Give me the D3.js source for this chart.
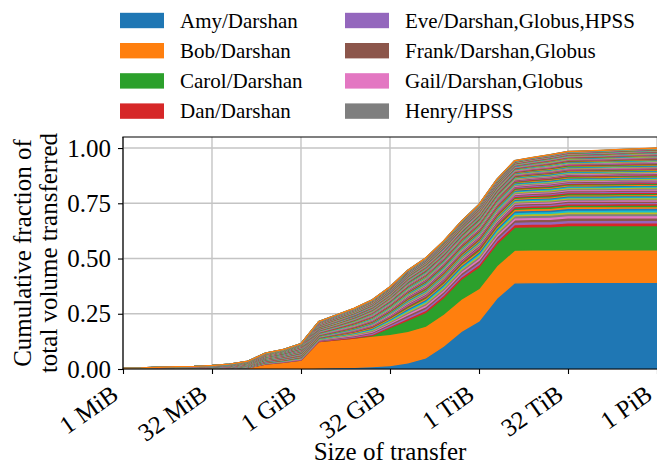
<!DOCTYPE html>
<html>
<head>
<meta charset="utf-8">
<script src="https://cdn.jsdelivr.net/npm/d3@7"></script>
<style>
  body { margin: 0; background: #fff; }
  svg { display: block; }
  text { font-family: "Liberation Serif", "Times New Roman", serif; fill: #000; }
</style>
</head>
<body>
<svg id="chart" width="657" height="464"></svg>
<script>
// Transfer-size bins: log2 of the bin's upper bound in bytes (1 MiB .. 1 PiB)
const binExp = [20, 21, 22, 23, 24, 25, 26, 27, 28, 29, 30, 31, 32, 33, 34, 35,
                36, 37, 38, 39, 40, 41, 42, 43, 44, 45, 46, 47, 48, 49, 50];

// X axis ticks
const xTickExp = [20, 25, 30, 35, 40, 45, 50];
const xTickLabels = ["1 MiB", "32 MiB", "1 GiB", "32 GiB", "1 TiB", "32 TiB", "1 PiB"];
const yTicks = [0, 0.25, 0.5, 0.75, 1.0];

// Cumulative fraction of total volume, per bin, for the three largest users
const amy = [0, 0, 0, 0, 0, 0, 0, 0, 0, 0, .002, .004, .006, .008, .011, .016,
             .028, .05, .103, .17, .217, .32, .39, .391, .391, .392, .392, .392, .392, .392, .392];
const bob = [0, 0, 0, 0, 0, 0, .001, .005, .022, .03, .038, .12, .126, .132, .138, .141,
             .143, .144, .145, .146, .147, .147, .148, .148, .148, .148, .148, .148, .148, .148, .148];
const carol = [0, 0, 0, 0, 0, 0, 0, 0, 0, 0, 0, 0, 0, 0, .003, .03,
               .05, .062, .075, .09, .098, .1, .104, .105, .105, .109, .109, .109, .109, .109, .109];

// Remaining users, grouped by size: combined cumulative fraction of each group
const tier1Curve = [0, 0, 0, 0, 0, 0, .001, .004, .012, .015, .02, .025, .033, .042, .055, .067,
                    .088, .097, .1, .103, .113, .117, .122, .124, .126, .13, .13, .13, .131, .131, .131];
const tier2Curve = [.001, .001, .002, .003, .004, .006, .008, .012, .02, .024, .031, .038, .048, .058, .068, .078,
                    .095, .103, .106, .108, .116, .119, .122, .127, .132, .135, .136, .137, .138, .139, .14];
const tier3Curve = [.003, .004, .006, .007, .008, .010, .012, .014, .018, .019, .024, .028, .032, .035, .038, .040,
                    .043, .046, .049, .051, .054, .055, .057, .062, .068, .071, .072, .074, .076, .078, .080];

// Relative volume of each user inside its group
const tier1Weights = [15, 14, 13, 12, 11, 10, 10, 9, 9, 8, 8, 7, 7, 6, 6, 6, 5];
const tier1Names = ["Dan/Darshan", "Eve/Darshan,Globus,HPSS", "Frank/Darshan,Globus",
                    "Gail/Darshan,Globus", "Henry/HPSS"];
const tier2Weights = [5, 5, 5, 5, 5, 4.5, 4.5, 4.5, 4.5, 4.5, 4, 4, 4, 4, 4, 4, 3.5, 3.5, 3.5, 3.5,
                      3.5, 3.5, 3, 3, 3, 3, 3, 3, 3, 2.5, 2.5, 2.5, 2.5, 2.5, 2.5, 2, 2, 2, 2, 2];
const tier3Weights = [2, 2, 2, 1.9, 1.9, 1.8, 1.8, 1.7, 1.7, 1.6, 1.6, 1.5, 1.5, 1.5, 1.4, 1.4,
                      1.3, 1.3, 1.3, 1.2, 1.2, 1.2, 1.1, 1.1, 1.1, 1, 1, 1, 1, .9, .9, .9, .9,
                      .8, .8, .8, .8, .7, .7, .7, .7, .7, .6, .6, .6, .6, .6, .5, .5, .5, .5, .5];

// ---- assemble the per-user series (bottom of the stack first) ----
const series = [
  { name: "Amy/Darshan", values: amy },
  { name: "Bob/Darshan", values: bob },
  { name: "Carol/Darshan", values: carol }
];
function addGroup(curve, weights, names) {
  const total = d3.sum(weights);
  weights.forEach((w, j) => {
    series.push({ name: (names && names[j]) || "", values: curve.map(v => v * w / total) });
  });
}
addGroup(tier1Curve, tier1Weights, tier1Names);
addGroup(tier2Curve, tier2Weights);
addGroup(tier3Curve, tier3Weights);

const sizes = binExp.map(e => Math.pow(2, e));
const rows = sizes.map((s, i) => {
  const r = { size: s };
  series.forEach((sr, j) => { r[j] = sr.values[i]; });
  return r;
});
const keys = series.map((_, j) => j);
const stacked = d3.stack().keys(keys)(rows);

// ---- layout ----
const plot = { left: 123, right: 657, top: 137, bottom: 369 };
const svg = d3.select("#chart");

const x = d3.scaleLog().base(2)
  .domain([Math.pow(2, 20), Math.pow(2, 50)])
  .range([plot.left, plot.right]);
const y = d3.scaleLinear()
  .domain([0, 1.05])
  .range([plot.bottom, plot.top]);

const color = d3.scaleOrdinal().domain(keys).range(d3.schemeCategory10);

// grid (drawn beneath the areas)
const grid = svg.append("g").attr("stroke", "#c4c4c4").attr("stroke-width", 1.4);
xTickExp.forEach(e => {
  const px = x(Math.pow(2, e));
  grid.append("line").attr("x1", px).attr("x2", px).attr("y1", plot.top).attr("y2", plot.bottom);
});
yTicks.forEach(v => {
  grid.append("line").attr("x1", plot.left).attr("x2", plot.right).attr("y1", y(v)).attr("y2", y(v));
});

// stacked areas
svg.append("clipPath").attr("id", "plotClip")
  .append("rect")
  .attr("x", plot.left).attr("y", plot.top)
  .attr("width", plot.right - plot.left).attr("height", plot.bottom - plot.top);

const area = d3.area()
  .x(d => x(d.data.size))
  .y0(d => y(d[0]))
  .y1(d => y(d[1]));

svg.append("g").attr("clip-path", "url(#plotClip)")
  .selectAll("path")
  .data(stacked)
  .join("path")
  .attr("d", area)
  .attr("fill", d => color(d.key))
  .attr("stroke", d => color(d.key))
  .attr("stroke-width", 1.4)
  .attr("stroke-linejoin", "miter");

// axes
const xAxis = d3.axisBottom(x)
  .tickValues(xTickExp.map(e => Math.pow(2, e)))
  .tickFormat((d, i) => xTickLabels[i])
  .tickSize(5);
const gx = svg.append("g").attr("transform", `translate(0,${plot.bottom})`).call(xAxis);
gx.select(".domain").remove();
gx.selectAll(".tick line").attr("stroke", "#000").attr("stroke-width", 1.1);
gx.selectAll(".tick text")
  .attr("font-size", 25)
  .attr("text-anchor", "end")
  .attr("y", 0).attr("dy", 0)
  .attr("transform", "translate(-3.5,29) rotate(-35)");

const yAxis = d3.axisLeft(y)
  .tickValues(yTicks)
  .tickFormat(d3.format(".2f"))
  .tickSize(5)
  .tickPadding(7);
const gy = svg.append("g").attr("transform", `translate(${plot.left},0)`).call(yAxis);
gy.select(".domain").remove();
gy.selectAll(".tick line").attr("stroke", "#000").attr("stroke-width", 1.1);
gy.selectAll(".tick text").attr("font-size", 25);

// spines
const spines = svg.append("g").attr("stroke", "#000").attr("stroke-width", 1.2).attr("fill", "none");
spines.append("line").attr("x1", plot.left).attr("x2", plot.left).attr("y1", plot.top).attr("y2", plot.bottom + 0.6);
spines.append("line").attr("x1", plot.left - 0.6).attr("x2", plot.right).attr("y1", plot.bottom).attr("y2", plot.bottom);
spines.append("line").attr("x1", plot.left - 0.6).attr("x2", plot.right).attr("y1", plot.top).attr("y2", plot.top);

// axis labels
svg.append("text")
  .attr("x", (plot.left + plot.right) / 2).attr("y", 460)
  .attr("text-anchor", "middle").attr("font-size", 25)
  .text("Size of transfer");

const yl = svg.append("text")
  .attr("transform", `translate(31,${(plot.top + plot.bottom) / 2}) rotate(-90)`)
  .attr("text-anchor", "middle").attr("font-size", 25);
yl.append("tspan").attr("x", 0).attr("dy", 0).text("Cumulative fraction of");
yl.append("tspan").attr("x", 0).attr("dy", 26).text("total volume transferred");

// legend: first eight users, two columns
const legendItems = series.slice(0, 8);
const leg = svg.append("g");
legendItems.forEach((s, i) => {
  const col = Math.floor(i / 4), row = i % 4;
  const lx = col === 0 ? 120 : 345;
  const ly = 20.5 + row * 30.2;
  leg.append("rect").attr("x", lx).attr("y", ly - 7.7).attr("width", 44).attr("height", 15.4)
    .attr("fill", color(i));
  leg.append("text").attr("x", lx + 60).attr("y", ly).attr("dy", "0.35em")
    .attr("font-size", 21).text(s.name);
});
</script>
</body>
</html>
